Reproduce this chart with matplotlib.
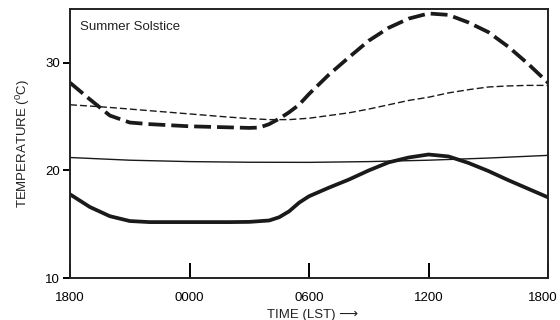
import numpy as np
import matplotlib
matplotlib.use('Agg')
import matplotlib.pyplot as plt
import matplotlib.transforms as mtransforms

plt.rcParams['font.family'] = ['Liberation Sans', 'DejaVu Sans']
plt.rcParams['mathtext.default'] = 'regular'

# Data ~~~~~~~~~~~~~~~~~~~~~~~~~~~~~~~~~~~~~~~~~~~~~~~~~~~~~~~~~~~~~~~~~~~~~~~~~~~
# hours after 1800 LST
hrs = [0, 1, 2, 3, 4, 5, 6, 7, 8, 9, 10, 11, 12, 13, 14, 15, 16, 17, 18, 19, 20, 21, 22, 23, 24]

# thick dashed
hrs_max_out = [0, 1, 2, 3, 4, 5, 6, 7, 8, 9, 9.5, 10, 10.5, 11, 11.5, 12, 13, 14, 15, 16, 17, 18,
               19, 20, 21, 22, 23, 24]
t_max_out = [28.15, 26.6, 25.1, 24.45, 24.3, 24.2, 24.1, 24.05, 24.0, 23.95, 23.98, 24.3, 24.8,
             25.4, 26.1, 27.1, 28.9, 30.5, 32.05, 33.25, 34.1, 34.58, 34.45, 33.75, 32.85, 31.5,
             29.9, 28.15]
# thin dashed
t_max_in = [26.1, 25.98, 25.85, 25.7, 25.55, 25.4, 25.25, 25.1, 24.95, 24.82, 24.72, 24.72, 24.85,
            25.1, 25.35, 25.7, 26.1, 26.5, 26.8, 27.2, 27.5, 27.75, 27.85, 27.9, 27.9]
# thin solid
hrs_min_in = [0, 3, 6, 9, 12, 15, 18, 21, 24]
t_min_in = [21.2, 20.95, 20.82, 20.76, 20.75, 20.82, 20.95, 21.15, 21.4]
# thick solid
hrs_min_out = [0, 1, 2, 3, 4, 5, 6, 7, 8, 9, 10, 10.5, 11, 11.5, 12, 12.5, 13, 14, 15, 16, 17, 18,
               19, 20, 21, 22, 23, 24]
t_min_out = [17.78, 16.6, 15.75, 15.3, 15.2, 15.2, 15.2, 15.2, 15.2, 15.22, 15.35, 15.65, 16.2,
             17.0, 17.6, 18.0, 18.4, 19.15, 20.0, 20.75, 21.2, 21.48, 21.3, 20.7, 19.95, 19.1,
             18.3, 17.5]

xticks = [0, 6, 12, 18, 24]
xticklabels = ['1800', '0000', '0600', '1200', '1800']
yticks = [10, 20, 30]

# Plot ~~~~~~~~~~~~~~~~~~~~~~~~~~~~~~~~~~~~~~~~~~~~~~~~~~~~~~~~~~~~~~~~~~~~~~~~~~~
fig = plt.figure(figsize=(5.6, 3.2), dpi=100)
ax = fig.add_axes([0.125, 0.131, 0.8536, 0.841])

ax.plot(hrs_max_out, t_max_out, color='#1a1a1a', lw=2.7, dashes=(4.5, 1.6), solid_capstyle='butt')
ax.plot(hrs, t_max_in, color='#1a1a1a', lw=1.0, dashes=(5, 2.2))
ax.plot(hrs_min_in, t_min_in, color='#1a1a1a', lw=1.0)
ax.plot(hrs_min_out, t_min_out, color='#1a1a1a', lw=2.7)

ax.set_xlim(0, 24)
ax.set_ylim(10, 35)
for s in ax.spines.values():
    s.set_linewidth(1.4)
    s.set_color('#222222')

ax.set_xticks(xticks)
ax.set_xticklabels(xticklabels, fontsize=9.5)
ax.tick_params(axis='x', direction='in', length=11, width=1.4, pad=10)
ax.set_yticks(yticks)
ax.set_yticklabels([str(v) for v in yticks], fontsize=9.5)
ax.tick_params(axis='y', direction='out', length=5, width=1.4, pad=2)

# pull the last "1800" in so it stays inside the figure
lab = ax.get_xticklabels()[-1]
lab.set_transform(lab.get_transform() + mtransforms.ScaledTranslation(-4/72, 0, fig.dpi_scale_trans))

ax.text(0.02, 0.92, 'Summer Solstice', transform=ax.transAxes, fontsize=9.5, color='#222222')
ax.set_ylabel('TEMPERATURE ($^0$C)', fontsize=9.5, labelpad=10, color='#222222')
ax.set_xlabel('TIME (LST) \u27f6', fontsize=9.5, labelpad=3, color='#222222')
ax.xaxis.set_label_coords(0.507, -0.115)

plt.savefig('out.png', dpi=100)
